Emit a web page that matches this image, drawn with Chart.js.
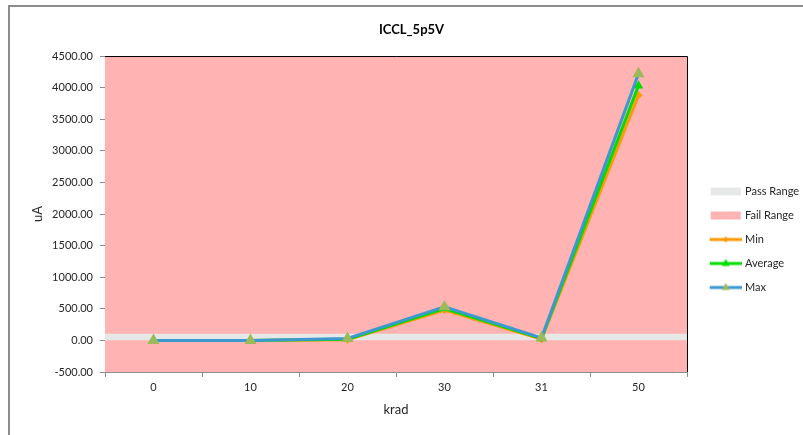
<!DOCTYPE html>
<html>
<head>
<meta charset="utf-8">
<script src="https://cdn.jsdelivr.net/npm/chart.js@4.4.1/dist/chart.umd.min.js"></script>
<style>
  html, body { margin: 0; padding: 0; background: #fff; }
  #wrap { position: relative; width: 803px; height: 435px; }
  #frame { position: absolute; left: 8px; top: 5px; right: -10px; bottom: -10px;
           border-top: 2px solid #8c8c8c; border-left: 2px solid #8c8c8c; pointer-events: none; }
  canvas { position: absolute; left: 0; top: 0; }
</style>
</head>
<body>
<div id="wrap">
  <div id="frame"></div>
  <canvas id="grafico" width="803" height="435"></canvas>
</div>
<script>
// ICCL_5p5V — corrente x dose (krad), faixas de pass/fail no fundo

const CATEGORIAS = ['0', '10', '20', '30', '31', '50'];
const MINIMO = [0, 0, 10, 480, 20, 3880];
const MEDIA = [0, 0, 20, 505, 30, 4030];
const MAXIMO = [0, 0, 30, 530, 40, 4220];
const FAIXA_PASS = [0, 100];
const FAIXA_FAIL = [-500, 4500];
const Y_TICKS = { min: -500, max: 4500, passo: 500 };

const COR_PASS = '#e6e8e8';
const COR_FAIL = '#ffb3b3';
const COR_MIN = '#ff9900';
const COR_MEDIA = '#00dd00';
const COR_MAX = '#3d98cf';
const COR_MARCADOR_MAX = '#9bbb59';

Chart.defaults.font.family = 'Lato, "Open Sans", sans-serif';
Chart.defaults.color = '#262626';

// ícones da legenda: desenhados num canvas pequeno, conteúdo deslocado à direita
function criarIcone(desenhar) {
  const c = document.createElement('canvas');
  c.width = 44;
  c.height = 12;
  desenhar(c.getContext('2d'));
  return c;
}

function iconeCaixa(cor) {
  return criarIcone((ctx) => {
    ctx.fillStyle = cor;
    ctx.fillRect(13, 2, 30, 8);
  });
}

function iconeLinha(cor, corMarcador, marcador) {
  return criarIcone((ctx) => {
    ctx.strokeStyle = cor;
    ctx.lineWidth = 3;
    ctx.beginPath();
    ctx.moveTo(12, 6);
    ctx.lineTo(44, 6);
    ctx.stroke();
    ctx.fillStyle = corMarcador;
    ctx.beginPath();
    if (marcador === 'triangulo') {
      ctx.moveTo(28, 1.5);
      ctx.lineTo(32, 8.5);
      ctx.lineTo(24, 8.5);
    } else {
      ctx.moveTo(28, 3);
      ctx.lineTo(31, 6);
      ctx.lineTo(28, 9);
      ctx.lineTo(25, 6);
    }
    ctx.closePath();
    ctx.fill();
  });
}

const ICONES = [
  iconeCaixa(COR_PASS),
  iconeCaixa(COR_FAIL),
  iconeLinha(COR_MIN, COR_MIN, 'losango'),
  iconeLinha(COR_MEDIA, COR_MEDIA, 'triangulo'),
  iconeLinha(COR_MAX, COR_MARCADOR_MAX, 'triangulo')
];

const molduraPlot = {
  id: 'molduraPlot',
  afterDraw(chart) {
    const { ctx, chartArea: a } = chart;
    ctx.save();
    ctx.strokeStyle = '#000';
    ctx.lineWidth = 1;
    ctx.beginPath();
    ctx.moveTo(a.left, a.top + 0.5);
    ctx.lineTo(a.right + 0.5, a.top + 0.5);
    ctx.lineTo(a.right + 0.5, a.bottom);
    ctx.stroke();
    ctx.restore();
  }
};

const linha = (label, dados, cor, corMarcador, estilo, raio, ordem) => ({
  type: 'line',
  label,
  data: dados,
  borderColor: cor,
  backgroundColor: corMarcador,
  borderWidth: 3,
  tension: 0,
  pointStyle: estilo,
  pointRadius: raio,
  pointBorderWidth: 0,
  pointBackgroundColor: corMarcador,
  order: ordem
});

new Chart(document.getElementById('grafico'), {
  type: 'bar',
  data: {
    labels: CATEGORIAS,
    datasets: [
      { label: 'Pass Range', data: CATEGORIAS.map(() => FAIXA_PASS), backgroundColor: COR_PASS, order: 4 },
      { label: 'Fail Range', data: CATEGORIAS.map(() => FAIXA_FAIL), backgroundColor: COR_FAIL, order: 5 },
      linha('Min', MINIMO, COR_MIN, COR_MIN, 'rectRot', 4, 3),
      linha('Average', MEDIA, COR_MEDIA, COR_MEDIA, 'triangle', 5.5, 2),
      linha('Max', MAXIMO, COR_MAX, COR_MARCADOR_MAX, 'triangle', 7, 1)
    ]
  },
  options: {
    responsive: false,
    animation: false,
    datasets: {
      bar: { grouped: false, barPercentage: 1, categoryPercentage: 1, borderWidth: 0 }
    },
    layout: { padding: { left: 20, right: 0, top: 0, bottom: 0 } },
    scales: {
      x: {
        offset: true,
        z: 1,
        grid: { offset: true, drawOnChartArea: false, tickLength: 5, color: '#8c8c8c' },
        border: { color: '#8c8c8c', width: 1 },
        ticks: { padding: 4, font: { size: 11 } },
        title: { display: true, text: 'krad', font: { size: 13 }, padding: { top: 0, bottom: 17 } },
        afterFit: (s) => { s.height = 63; }
      },
      y: {
        min: Y_TICKS.min,
        max: Y_TICKS.max,
        z: 1,
        grid: { drawOnChartArea: false, tickLength: 5, color: '#8c8c8c' },
        border: { color: '#8c8c8c', width: 1 },
        ticks: { stepSize: Y_TICKS.passo, padding: 7, font: { size: 11 }, callback: (v) => v.toFixed(2) },
        title: { display: true, text: 'uA', font: { size: 13 }, padding: { top: 10, bottom: 0 } },
        afterFit: (s) => { s.width = 85; }
      }
    },
    plugins: {
      title: {
        display: true,
        text: 'ICCL_5p5V',
        color: '#000',
        font: { size: 13, weight: 'bold' },
        padding: { top: 22, bottom: 18.4 }
      },
      legend: {
        position: 'right',
        maxWidth: 116,
        // título vazio só para empurrar a coluna da legenda para baixo
        title: { display: true, text: ' ', font: { size: 11 }, padding: { top: 30.8, bottom: 0 } },
        labels: {
          usePointStyle: true,
          pointStyleWidth: 39.5,
          padding: 13,
          font: { size: 11 },
          generateLabels: (chart) => chart.data.datasets.map((ds, i) => ({
            text: ds.label,
            pointStyle: ICONES[i],
            fillStyle: 'transparent',
            strokeStyle: 'transparent',
            lineWidth: 0,
            hidden: false,
            datasetIndex: i
          }))
        }
      },
      tooltip: { enabled: false }
    }
  },
  plugins: [molduraPlot]
});
</script>
</body>
</html>
